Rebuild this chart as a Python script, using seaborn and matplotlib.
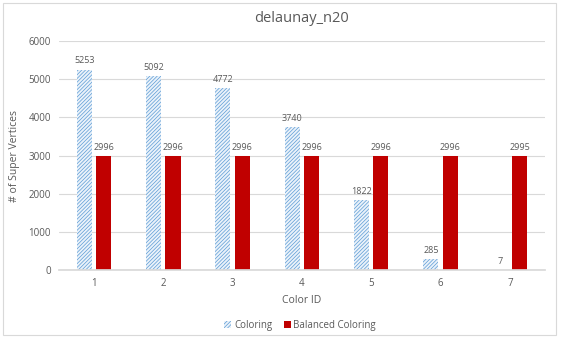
import numpy as np
import pandas as pd
import matplotlib
import matplotlib.pyplot as plt
import seaborn as sns
from matplotlib.patches import Patch, Rectangle

# chart values
color_ids = ["1", "2", "3", "4", "5", "6", "7"]
coloring = [5253, 5092, 4772, 3740, 1822, 285, 7]
balanced = [2996, 2996, 2996, 2996, 2996, 2996, 2995]
series_names = ["Coloring", "Balanced Coloring"]

df = pd.DataFrame({
    "Color ID": color_ids * 2,
    "value": coloring + balanced,
    "series": [series_names[0]] * len(color_ids) + [series_names[1]] * len(color_ids),
})

sns.set_theme(style="white")
plt.rcParams["font.family"] = ["Open Sans", "DejaVu Sans"]
plt.rcParams["hatch.linewidth"] = 0.5

gray = "#595959"
blue = "#5B9BD5"
red = "#C00000"

fig = plt.figure(figsize=(5.61, 3.39), dpi=100)
ax = fig.add_axes([0.1057, 0.2035, 0.8649, 0.6755])

sns.barplot(data=df, x="Color ID", y="value", hue="series", order=color_ids,
            hue_order=series_names, palette=[blue, red], width=0.56, gap=0.22,
            saturation=1, ax=ax, legend=False)

# hatched look for the first series
for bar in ax.containers[0]:
    bar.set_facecolor("#EAF2FA")
    bar.set_edgecolor(blue)
    bar.set_hatch("/////////")
    bar.set_linewidth(0)
for bar in ax.containers[1]:
    bar.set_linewidth(0)

for cont in ax.containers:
    ax.bar_label(cont, padding=3, fontsize=6.5, color=gray)

ax.set_ylim(0, 6000)
ax.set_xlim(-0.5, 6.5)
ax.set_yticks(np.arange(0, 6001, 1000))
ax.yaxis.grid(True, color="#D9D9D9", linewidth=0.8)
ax.set_axisbelow(True)
for s in ["top", "right", "left"]:
    ax.spines[s].set_visible(False)
ax.spines["bottom"].set_color("#D9D9D9")
ax.tick_params(axis="both", length=0, labelsize=7, colors=gray, pad=6)

ax.set_xlabel("Color ID", fontsize=7.5, color=gray, labelpad=4)
ax.set_ylabel("# of Super Vertices", fontsize=7.5, color=gray, labelpad=6)
ax.set_title("delaunay_n20", fontsize=10.5, color=gray, pad=14)

handles = [Patch(facecolor="#EAF2FA", edgecolor=blue, hatch="/////////", linewidth=0),
           Patch(facecolor=red, linewidth=0)]
fig.legend(handles, series_names, loc="center", bbox_to_anchor=(0.535, 0.04),
           ncol=2, frameon=False, fontsize=7, labelcolor=gray,
           handlelength=0.7, handleheight=0.7, handletextpad=0.3, columnspacing=1.2)

fig.patches.append(Rectangle((0.006, 0.012), 0.985, 0.978, transform=fig.transFigure,
                             fill=False, edgecolor="#D9D9D9", linewidth=0.8))

fig.savefig("out.png", dpi=100)
